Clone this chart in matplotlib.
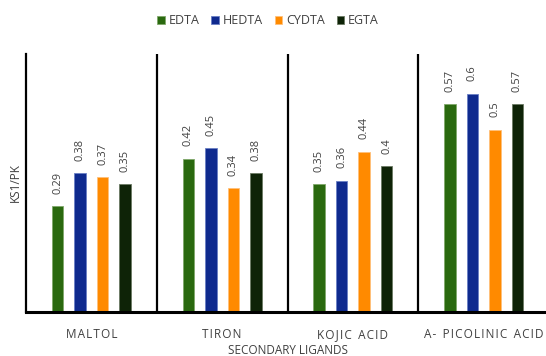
"""Stability ratio KS1/PK of mixed-ligand complexes, grouped by secondary ligand."""

import matplotlib
matplotlib.use("Agg")
import matplotlib.pyplot as plt
import numpy as np

plt.rcParams["font.family"] = ["Open Sans", "DejaVu Sans"]

# ── Data ────────────────────────────────────────────────────────────────
ligands = ["MALTOL", "TIRON", "KOJIC ACID", "A- PICOLINIC ACID"]
series = ["EDTA", "HEDTA", "CYDTA", "EGTA"]

edta = [0.29, 0.42, 0.35, 0.57]
hedta = [0.38, 0.45, 0.36, 0.60]
cydta = [0.37, 0.34, 0.44, 0.50]
egta = [0.35, 0.38, 0.40, 0.57]

COLORS = {
    "EDTA":  "#2a690f",
    "HEDTA": "#0f2a8e",
    "CYDTA": "#ff8a00",
    "EGTA":  "#0e2307",
}
EDGES = {
    "EDTA":  "#7fa86a",
    "HEDTA": "#6a7fc4",
    "CYDTA": "#ffc07a",
    "EGTA":  "#6b7a63",
}
TEXT_GREY = "#404040"

HAIR = "\u200a"


def spaced(label: str) -> str:
    """Letter-space a category label (hair space between letters)."""
    words = [HAIR.join(w) for w in label.split(" ")]
    return (" " + HAIR * 3).join(words)


# ── Plot ────────────────────────────────────────────────────────────────
fig = plt.figure(figsize=(5.46, 3.56), dpi=100)
ax = fig.add_axes([26 / 546, 44.5 / 356, 523 / 546, 257.5 / 356])

values = [edta, hedta, cydta, egta]
x = np.arange(len(ligands)) + 0.5
bar_w = 0.088
step = 0.172

for i, (name, vals) in enumerate(zip(series, values)):
    offset = (i - 1.5) * step
    bars = ax.bar(x + offset, vals, bar_w, color=COLORS[name],
                  edgecolor=EDGES[name], linewidth=0.6, label=name)
    for bar, v in zip(bars, vals):
        ax.annotate(f"{v:g}", (bar.get_x() + bar.get_width() / 2, v),
                    xytext=(0, 9), textcoords="offset points",
                    rotation=90, ha="center", va="bottom",
                    fontsize=8, color=TEXT_GREY)

ymax = 0.709
ax.set_xlim(0, len(ligands))
ax.set_ylim(0, ymax)

# category separators
ax.vlines(np.arange(1, len(ligands)), 0, ymax, color="black", linewidth=1.6)

for side in ("top", "right"):
    ax.spines[side].set_visible(False)
ax.spines["left"].set_linewidth(1.6)
ax.spines["bottom"].set_linewidth(2.2)

ax.set_yticks([])
ax.set_xticks(x)
ax.set_xticklabels([spaced(l) for l in ligands], fontsize=8.5,
                   color=TEXT_GREY)
ax.tick_params(axis="x", length=0, pad=12)

ax.set_xlabel("SECONDARY LIGANDS", fontsize=8.5, color=TEXT_GREY,
              labelpad=2)
ax.set_ylabel("KS1/PK", fontsize=8.5, color=TEXT_GREY, labelpad=3)

fig.legend(loc="center", bbox_to_anchor=(268 / 546, 1 - 21 / 356),
           ncol=4, frameon=False, fontsize=9, handlelength=0.6,
           handleheight=0.6, handletextpad=0.3, columnspacing=0.95,
           labelcolor=TEXT_GREY)

fig.savefig("out.png", dpi=100, facecolor="white")
